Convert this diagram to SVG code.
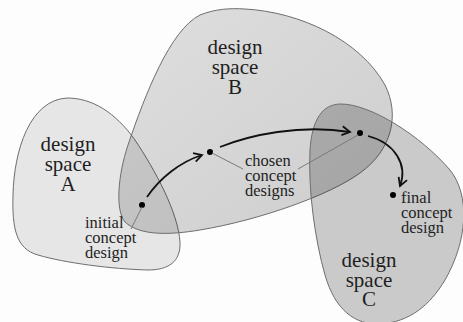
<svg xmlns="http://www.w3.org/2000/svg" width="463" height="322" viewBox="0 0 463 322">
<style>
.blob{stroke:#6e6e6e;stroke-width:1}
.big{font-family:'Liberation Serif','DejaVu Serif',serif;font-size:21px;fill:#1e1e1e;text-anchor:middle}
.small{font-family:'Liberation Serif','DejaVu Serif',serif;font-size:16.5px;fill:#1e1e1e}
.arrow{fill:none;stroke:#111;stroke-width:1.8;marker-end:url(#ah)}
.leader{fill:none;stroke:#7a7a7a;stroke-width:1}
.dot{fill:#000}
</style>
<defs>
<linearGradient id="gB" x1="0" y1="0" x2="1" y2="1">
<stop offset="0" stop-color="#000" stop-opacity="0.12"/>
<stop offset="1" stop-color="#000" stop-opacity="0.19"/>
</linearGradient>
<marker id="ah" viewBox="-10 -6 12 12" markerWidth="12" markerHeight="12" refX="0" refY="0" orient="auto" markerUnits="userSpaceOnUse">
<path d="M-8,-4.5 L0,0 L-8,4.5" fill="none" stroke="#111" stroke-width="1.8"/>
</marker>
</defs>
<rect width="463" height="322" fill="#fdfdfd"/>
<g id="spaceA">
<path class="blob" fill="#000" fill-opacity="0.09" d="M67,98 C92,98 115,112 135,140 C155,170 178,212 180,242 C181,262 168,270 148,270 C112,269 65,263 38,255 C16,249 12,228 13,195 C14,150 30,100 67,98 Z"/>
<text class="big" font-family="Liberation Serif, serif" x="68" y="151">design</text>
<text class="big" font-family="Liberation Serif, serif" x="68" y="171">space</text>
<text class="big" font-family="Liberation Serif, serif" x="68" y="191">A</text>
</g>
<g id="spaceB">
<path class="blob" fill="url(#gB)" d="M245,9 C300,12 360,40 385,85 C400,115 392,150 360,173 C330,195 260,220 200,230 C170,235 140,236 125,222 C115,210 118,175 128,145 C145,95 170,30 200,15 C215,9 230,8 245,9 Z"/>
<text class="big" font-family="Liberation Serif, serif" x="235" y="54">design</text>
<text class="big" font-family="Liberation Serif, serif" x="235" y="74">space</text>
<text class="big" font-family="Liberation Serif, serif" x="235" y="94">B</text>
</g>
<g id="spaceC">
<path class="blob" fill="#000" fill-opacity="0.2" d="M341,104 C370,104 420,135 450,170 C470,195 468,240 445,280 C430,305 410,322 380,324 C355,325 335,310 325,275 C315,240 308,190 310,150 C312,120 322,104 341,104 Z"/>
<text class="big" font-family="Liberation Serif, serif" x="369" y="267">design</text>
<text class="big" font-family="Liberation Serif, serif" x="369" y="287">space</text>
<text class="big" font-family="Liberation Serif, serif" x="369" y="306">C</text>
</g>
<g id="initial">
<circle class="dot" cx="142" cy="205" r="3"/>
<text class="small" font-family="Liberation Serif, serif" x="85" y="228">initial</text>
<text class="small" font-family="Liberation Serif, serif" x="85" y="243">concept</text>
<text class="small" font-family="Liberation Serif, serif" x="85" y="258">design</text>
</g>
<g id="chosen">
<circle class="dot" cx="210" cy="152" r="3"/>
<circle class="dot" cx="360" cy="133" r="3"/>
<text class="small" font-family="Liberation Serif, serif" x="245" y="166">chosen</text>
<text class="small" font-family="Liberation Serif, serif" x="245" y="181">concept</text>
<text class="small" font-family="Liberation Serif, serif" x="245" y="196">designs</text>
</g>
<g id="final">
<circle class="dot" cx="393" cy="195" r="3"/>
<text class="small" font-family="Liberation Serif, serif" x="401" y="203">final</text>
<text class="small" font-family="Liberation Serif, serif" x="401" y="218">concept</text>
<text class="small" font-family="Liberation Serif, serif" x="401" y="233">design</text>
</g>
<g id="connectors">
<path class="leader" d="M142,207 L131,229"/>
<path class="leader" d="M212,153 L243,169"/>
<path class="leader" d="M358,135 L298,169"/>
<path class="arrow" d="M147,197 C160,178 180,162 202,155"/>
<path class="arrow" d="M220,147 C250,135 300,124 350,132"/>
<path class="arrow" d="M368,136 C395,143 408,165 400,186"/>
</g>
</svg>
